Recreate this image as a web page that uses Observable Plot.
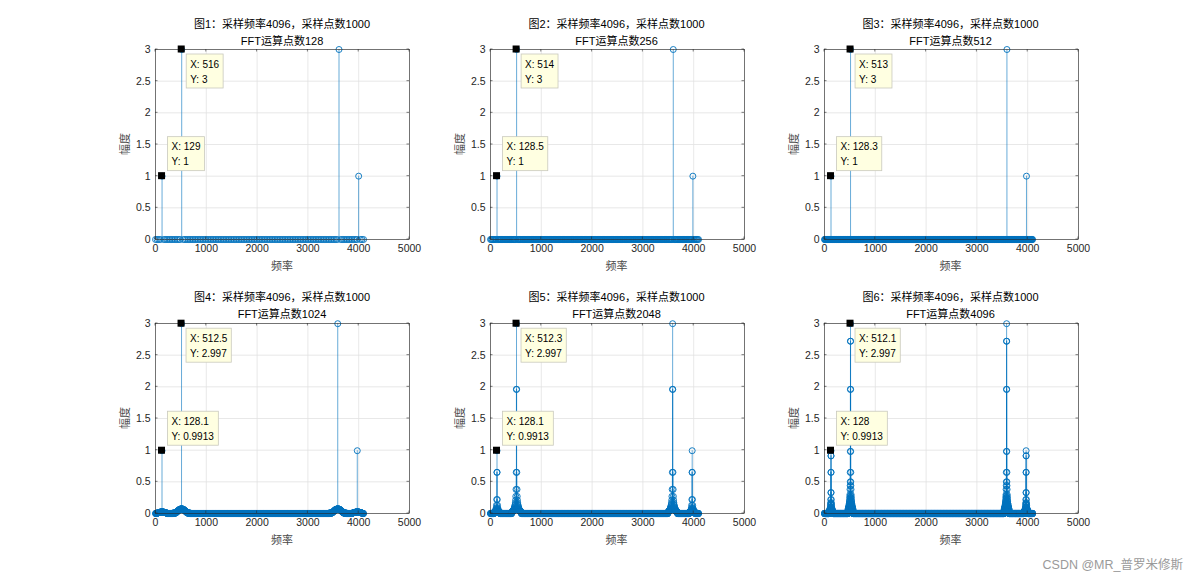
<!DOCTYPE html>
<html><head><meta charset="utf-8">
<script src="https://cdn.jsdelivr.net/npm/d3@7"></script>
<script src="https://cdn.jsdelivr.net/npm/@observablehq/plot@0.6"></script>
<style>
html,body{margin:0;padding:0;background:#fff;}
#root{position:relative;width:1192px;height:576px;overflow:hidden;background:#fff;font-family:"Liberation Sans","Noto Sans CJK SC",sans-serif;}
.panel{position:absolute;}
.title{position:absolute;transform:translate(-50%,-50%);white-space:nowrap;font-size:11px;line-height:12px;color:#000;}
.xlab,.ylab{position:absolute;white-space:nowrap;font-size:11px;line-height:12px;color:#4a4a4a;font-family:"Noto Sans CJK SC",sans-serif;}
.xlab{transform:translate(-50%,-50%);}
.ylab{transform:translate(-50%,-50%) rotate(-90deg);}
.wm{position:absolute;right:9px;top:563px;transform:translateY(-50%);font-size:12.5px;color:#9a9a9a;white-space:nowrap;}
</style></head><body><div id="root"></div>
<script>
// ---- data ----
const sampleRate = 4096;
const fftPoints = [128, 256, 512, 1024, 2048, 4096];
const titleLine1 = ["图1：采样频率4096，采样点数1000","图2：采样频率4096，采样点数1000","图3：采样频率4096，采样点数1000",
                    "图4：采样频率4096，采样点数1000","图5：采样频率4096，采样点数1000","图6：采样频率4096，采样点数1000"];
const titleLine2 = ["FFT运算点数128","FFT运算点数256","FFT运算点数512","FFT运算点数1024","FFT运算点数2048","FFT运算点数4096"];
const xTicks = [0, 1000, 2000, 3000, 4000, 5000];
const yTicks = [0, 0.5, 1, 1.5, 2, 2.5, 3];
const xLabel = "频率";
const yLabel = "幅度";

// data tips (X / Y text as shown)
const tipX128 = ["129", "128.5", "128.3", "128.1", "128.1", "128"];
const tipY128 = ["1", "1", "1", "0.9913", "0.9913", "0.9913"];
const tipX512 = ["516", "514", "513", "512.5", "512.3", "512.1"];
const tipY512 = ["3", "3", "3", "2.997", "2.997", "2.997"];

// amplitudes read around each line: peak bin first, then neighbouring bins moving away (same on both sides, and at the mirrored lines)
const lobes128 = [
  [1], [1], [1],
  [0.9913, 0.024, 0.024, 0.024, 0.024, 0.023, 0.023, 0.022, 0.022, 0.021, 0.02, 0.019, 0.018, 0.017, 0.016, 0.015, 0.014, 0.013, 0.012, 0.011, 0.01, 0.009, 0.008, 0.007, 0.006, 0.005],
  [0.9913, 0.65, 0.024, 0.22, 0.025, 0.13, 0.024, 0.09, 0.023, 0.07, 0.023, 0.057, 0.022, 0.048, 0.021, 0.042, 0.02, 0.037, 0.019, 0.033, 0.018, 0.03, 0.017, 0.027, 0.016, 0.024, 0.015, 0.022, 0.014, 0.02],
  [0.9913, 0.91, 0.65, 0.33, 0.024, 0.17, 0.22, 0.15, 0.024, 0.085, 0.13, 0.1, 0.024, 0.052, 0.09, 0.077, 0.024, 0.035, 0.07, 0.065, 0.023, 0.025, 0.055, 0.055, 0.022, 0.018, 0.045, 0.047, 0.021, 0.014, 0.038, 0.041, 0.02, 0.01, 0.033, 0.036, 0.019, 0.008, 0.029, 0.032, 0.018]
];
const lobes512 = [
  [3], [3], [3],
  [2.997, 0.07, 0.072, 0.072, 0.071, 0.07, 0.069, 0.068, 0.066, 0.064, 0.062, 0.06, 0.057, 0.055, 0.052, 0.049, 0.046, 0.043, 0.04, 0.037, 0.034, 0.031, 0.028, 0.025, 0.022, 0.019, 0.016, 0.013, 0.011, 0.009, 0.007, 0.005, 0.004, 0.004, 0.005, 0.007, 0.008, 0.01, 0.011, 0.012],
  [2.997, 1.96, 0.07, 0.65, 0.075, 0.38, 0.072, 0.27, 0.07, 0.21, 0.068, 0.17, 0.066, 0.145, 0.064, 0.125, 0.061, 0.11, 0.058, 0.097, 0.055, 0.087, 0.052, 0.078, 0.049, 0.07, 0.046, 0.063, 0.043, 0.057, 0.04, 0.051, 0.037, 0.046, 0.034, 0.041, 0.031, 0.037, 0.028, 0.033, 0.025, 0.029, 0.022, 0.025, 0.02, 0.022, 0.018, 0.02],
  [2.997, 2.72, 1.96, 0.98, 0.07, 0.5, 0.65, 0.44, 0.07, 0.25, 0.38, 0.3, 0.07, 0.16, 0.27, 0.23, 0.07, 0.1, 0.2, 0.19, 0.07, 0.07, 0.16, 0.16, 0.065, 0.05, 0.13, 0.14, 0.065, 0.04, 0.11, 0.12, 0.06, 0.03, 0.09, 0.1, 0.06, 0.025, 0.08, 0.09, 0.055, 0.02, 0.07, 0.08, 0.05, 0.02, 0.06, 0.07, 0.05]
];

// ---- layout ----
const colLeft = [155, 489.5, 823.5];
const rowTop = [49.3, 322.7];
const plotW = 254, plotH = 190;
const mL = 40, mR = 12, mT = 10, mB = 40;
const BLUE = "#0072BD";

const root = document.getElementById("root");

function textW(s) {
  const w = {"X": 6.67, "Y": 6.67, ":": 2.78, " ": 2.78, ".": 2.78};
  let t = 0; for (const c of s) t += (w[c] ?? 5.56); return t;
}

function tipMark(tips) {
  return (index, scales, values, dims) => {
    const g = d3.create("svg:g").attr("text-anchor", "start");
    for (const t of tips) {
      const sx = scales.x(t.f), sy = scales.y(t.a);
      g.append("rect").attr("x", sx - 3.5).attr("y", sy - 3.5).attr("width", 7).attr("height", 7).attr("fill", "#000");
      const w = Math.max(...t.lines.map(textW)) + 8, h = 34;
      const bx = sx + (t.above ? 6 : 5), by = t.above ? sy - 5 - h : sy + 5;
      g.append("rect").attr("x", bx).attr("y", by).attr("width", w).attr("height", h)
        .attr("fill", "#ffffe1").attr("stroke", "#c9c9bd").attr("stroke-width", 0.8);
      t.lines.forEach((s, i) => g.append("text").attr("x", bx + 4).attr("y", by + 13.5 + i * 15)
        .attr("text-anchor", "start").attr("font-size", 10).attr("font-family", "Liberation Sans").attr("fill", "#000").text(s));
    }
    return g.node();
  };
}

function inwardTicks(index, scales, values, dims) {
  const g = d3.create("svg:g").attr("stroke", "#262626").attr("stroke-width", 0.6);
  const top = dims.marginTop, bot = dims.height - dims.marginBottom;
  const left = dims.marginLeft, right = dims.width - dims.marginRight;
  for (const t of xTicks) {
    const x = scales.x(t);
    g.append("line").attr("x1", x).attr("x2", x).attr("y1", bot).attr("y2", bot - 2.5);
    g.append("line").attr("x1", x).attr("x2", x).attr("y1", top).attr("y2", top + 2.5);
  }
  for (const t of yTicks) {
    const y = scales.y(t);
    g.append("line").attr("y1", y).attr("y2", y).attr("x1", left).attr("x2", left + 2.5);
    g.append("line").attr("y1", y).attr("y2", y).attr("x1", right).attr("x2", right - 2.5);
  }
  return g.node();
}

fftPoints.forEach((N, p) => {
  const col = p % 3, row = Math.floor(p / 3);
  const binFreq = k => k * sampleRate / (N - 1);
  const amps = new Array(N).fill(0);
  const b128 = Math.round(+tipX128[p] * (N - 1) / sampleRate);
  const b512 = Math.round(+tipX512[p] * (N - 1) / sampleRate);
  const place = (b, lobe) => lobe.forEach((v, k) => {
    for (const j of (k === 0 ? [b] : [b - k, b + k])) if (j >= 0 && j < N) amps[j] = Math.max(amps[j], v);
  });
  place(b128, lobes128[p]); place(b512, lobes512[p]);
  place(N - b128, lobes128[p]); place(N - b512, lobes512[p]);
  const pts = amps.map((a, k) => ({f: binFreq(k), a}));
  const stems = pts.filter(d => d.a > 0);
  const tips = [
    {f: binFreq(b512), a: +tipY512[p], lines: ["X: " + tipX512[p], "Y: " + tipY512[p]], above: false},
    {f: binFreq(b128), a: +tipY128[p], lines: ["X: " + tipX128[p], "Y: " + tipY128[p]], above: true}
  ];

  const chart = Plot.plot({
    width: plotW + mL + mR, height: plotH + mT + mB,
    marginLeft: mL, marginRight: mR, marginTop: mT, marginBottom: mB,
    x: {domain: [0, 5000]},
    y: {domain: [0, 3]},
    style: {fontFamily: "Liberation Sans", fontSize: "10.5px", color: "#262626", background: "transparent", overflow: "visible"},
    marks: [
      Plot.gridX(xTicks, {stroke: "#e2e2e2", strokeOpacity: 1, strokeWidth: 0.8}),
      Plot.gridY(yTicks, {stroke: "#e2e2e2", strokeOpacity: 1, strokeWidth: 0.8}),
      Plot.ruleX(stems, {x: "f", y1: 0, y2: "a", stroke: BLUE, strokeWidth: 0.6}),
      Plot.dot(pts, {x: "f", y: "a", r: 3, stroke: BLUE, fill: "none", strokeWidth: 0.9}),
      Plot.frame({stroke: "#262626", strokeWidth: 0.6}),
      inwardTicks,
      Plot.axisX({ticks: xTicks, tickSize: 0, tickPadding: 5, tickFormat: d => String(d), label: null}),
      Plot.axisY({ticks: yTicks, tickSize: 0, tickPadding: 5, tickFormat: d => String(d), label: null}),
      tipMark(tips)
    ]
  });
  chart.classList.add("panel");
  chart.style.left = (colLeft[col] - mL) + "px";
  chart.style.top = (rowTop[row] - mT) + "px";
  root.appendChild(chart);

  const cx = colLeft[col] + plotW / 2;
  const t1 = document.createElement("div"); t1.className = "title"; t1.textContent = titleLine1[p];
  t1.style.left = cx + "px"; t1.style.top = (rowTop[row] - 25.3) + "px"; root.appendChild(t1);
  const t2 = document.createElement("div"); t2.className = "title"; t2.textContent = titleLine2[p];
  t2.style.left = cx + "px"; t2.style.top = (rowTop[row] - 8.5) + "px"; root.appendChild(t2);
  const xl = document.createElement("div"); xl.className = "xlab"; xl.textContent = xLabel;
  xl.style.left = cx + "px"; xl.style.top = (rowTop[row] + plotH + 26) + "px"; root.appendChild(xl);
  const yl = document.createElement("div"); yl.className = "ylab"; yl.textContent = yLabel;
  yl.style.left = (colLeft[col] - 31) + "px"; yl.style.top = (rowTop[row] + plotH / 2) + "px"; root.appendChild(yl);
});

const wm = document.createElement("div"); wm.className = "wm"; wm.textContent = "CSDN @MR_普罗米修斯"; root.appendChild(wm);
</script></body></html>
